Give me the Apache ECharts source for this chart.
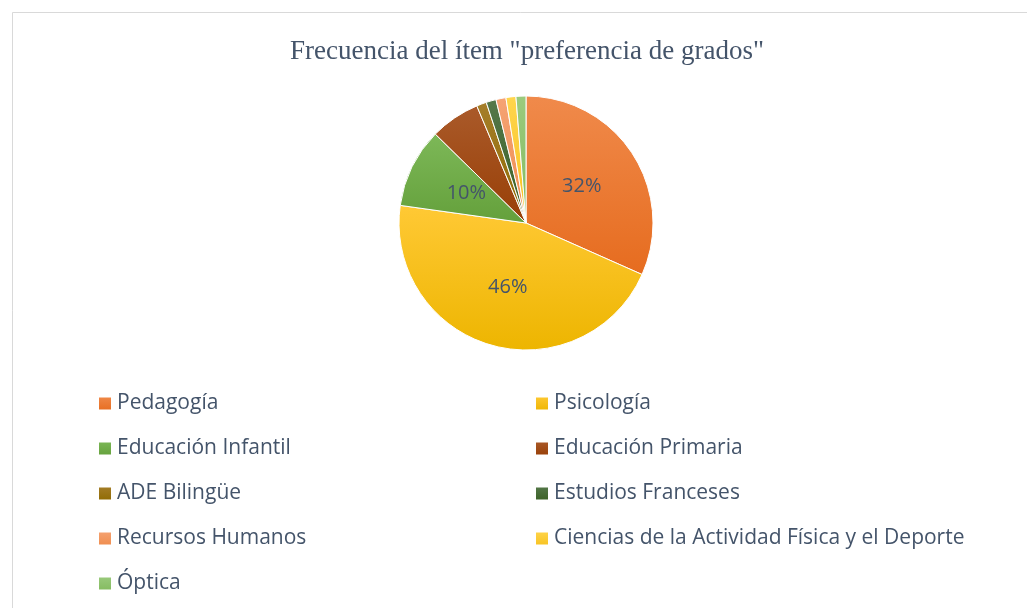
<!DOCTYPE html>
<html>
<head>
<meta charset="utf-8">
<script src="https://cdn.jsdelivr.net/npm/echarts@6/dist/echarts.min.js"></script>
<style>
html,body{margin:0;padding:0;background:#fff;}
#grafico{width:1027px;height:608px;}
</style>
</head>
<body>
<div id="grafico"></div>
<script>
// grados y frecuencias (orden de la tarta, horario desde arriba)
var grados = ['Pedagogía', 'Psicología', 'Educación Infantil', 'Educación Primaria', 'ADE Bilingüe',
	'Estudios Franceses', 'Recursos Humanos', 'Ciencias de la Actividad Física y el Deporte', 'Óptica'];
var frecuencias = [25, 36, 8, 5, 1, 1, 1, 1, 1];
// columnas de la leyenda
var leyendaIzq = ['Pedagogía', 'Educación Infantil', 'ADE Bilingüe', 'Recursos Humanos', 'Óptica'];
var leyendaDer = ['Psicología', 'Educación Primaria', 'Estudios Franceses', 'Ciencias de la Actividad Física y el Deporte'];
// colores: [claro, oscuro]
var colores = [
	['#F08A4B', '#E66C1F'],
	['#FFC935', '#EDB500'],
	['#7DB858', '#64A03B'],
	['#AA5A2A', '#983F06'],
	['#A57E2A', '#8F6A00'],
	['#55784A', '#3A6024'],
	['#F5A374', '#EF8C4C'],
	['#FFD54D', '#F7C21F'],
	['#9BCB7E', '#83BA5E']
];

var textoColor = '#44546A';

function degradado(c){
	return new echarts.graphic.LinearGradient(0, 0, 0, 1, [
		{offset: 0, color: c[0]},
		{offset: 1, color: c[1]}
	]);
}

var datos = grados.map(function(g, i){
	return {name: g, value: frecuencias[i], itemStyle: {color: degradado(colores[i])}};
});

var myChart = echarts.init(document.getElementById('grafico'));
var leyendaBase = {
	orient: 'vertical',
	top: 393,
	padding: 0,
	itemWidth: 14,
	itemHeight: 14,
	itemGap: 24,
	icon: 'rect',
	textStyle: {fontFamily: 'Open Sans', fontSize: 21, color: textoColor}
};
var option = {
	animation: false,
	backgroundColor: '#fff',
	graphic: [{
		type: 'rect',
		shape: {x: 12.5, y: 12.5, width: 1100, height: 700},
		style: {fill: 'none', stroke: '#D9D9D9', lineWidth: 1},
		silent: true
	}],
	title: {
		text: 'Frecuencia del ítem "preferencia de grados"',
		left: 522,
		textAlign: 'center',
		top: 33,
		textStyle: {fontFamily: 'Liberation Serif', fontWeight: 'normal', fontSize: 27, color: textoColor}
	},
	legend: [
		Object.assign({left: 97, data: leyendaIzq}, leyendaBase),
		Object.assign({left: 534, data: leyendaDer}, leyendaBase)
	],
	series: [{
		type: 'pie',
		center: [526, 223],
		radius: [0, 127],
		startAngle: 90,
		clockwise: true,
		itemStyle: {borderColor: '#fff', borderWidth: 1},
		label: {
			show: true,
			position: 'inside',
			fontFamily: 'Open Sans',
			fontSize: 20,
			color: textoColor,
			formatter: function(p){
				return p.percent >= 8 ? Math.round(p.percent) + '%' : '';
			}
		},
		labelLine: {show: false},
		data: datos
	}]
};
myChart.setOption(option);
</script>
</body>
</html>
